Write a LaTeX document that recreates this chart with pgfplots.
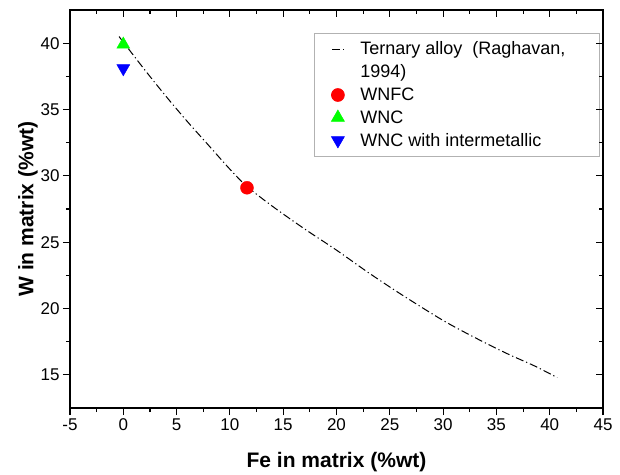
\documentclass[border=0pt]{standalone}
\usepackage{pgfplots}
\pgfplotsset{compat=1.18}
\usepackage{fontspec}
\setmainfont{Liberation Sans}
\definecolor{pureRed}{RGB}{255,0,0}
\definecolor{pureGreen}{RGB}{0,255,0}
\definecolor{pureBlue}{RGB}{0,0,255}
\begin{document}
\begin{tikzpicture}
\pgfplotsset{
  common/.style={
    scale only axis, width=533pt, height=398pt,
    xmin=-5, xmax=45, ymin=12.5, ymax=42.5,
    xtick={-5,0,...,45}, ytick={15,20,...,40},
    minor x tick num=1, minor y tick num=1,
    major tick length=7pt, minor tick length=4pt,
    axis line style={line width=1.1pt},
    every tick/.style={black, line width=1.1pt},
    /pgf/number format/assume math mode=true,
  }
}
\begin{axis}[common,
  tick pos=left, tick align=outside,
  tick label style={font=\fontsize{17}{20}\selectfont},
  xlabel={Fe in matrix (\%wt)}, ylabel={W in matrix (\%wt)},
  label style={font=\fontsize{21}{25}\selectfont\bfseries},
  xlabel style={at={(axis description cs:0.5,-0.135)}, anchor=center},
  ylabel style={at={(axis description cs:-0.079,0.5)}, anchor=center},
  legend style={at={(0.994,0.942)}, anchor=north east, draw=gray!60, line width=0.6pt,
    font=\fontsize{18}{21}\selectfont, row sep=4.5pt, column sep=14pt,
    inner xsep=15pt, inner ysep=6.5pt},
  legend cell align=left,
  legend image code/.code={\draw[#1] plot coordinates {(0.3cm,0)};},
]
\addplot[black, line width=1pt, dash pattern=on 8pt off 3pt on 1.2pt off 3pt, smooth,
  legend image code/.code={\draw[black, line width=0.8pt] (0.1cm,0) -- (0.5cm,0);}]
  coordinates {
  (-0.4,40.5) (2,38.0) (4,36.0) (6,34.1) (8,32.3) (10,30.5) (11.6,29.2)
  (14,27.7) (17,26.0) (20,24.4) (23,22.7) (26,21.1) (30,19.1) (33,17.8)
  (36,16.6) (38.5,15.7) (40.7,14.8)
  };
\addlegendentry{Ternary alloy \ (Raghavan,\hspace*{17pt}}
\addlegendimage{empty legend}
\addlegendentry{1994)}
\addplot[only marks, mark=*, mark size=6.5pt, draw=pureRed, fill=pureRed] coordinates {(11.6,29.1)};
\addlegendentry{WNFC}
\addplot[only marks, mark=triangle*, mark size=7.5pt, draw=pureGreen, fill=pureGreen] coordinates {(0,39.9)};
\addlegendentry{WNC}
\addplot[only marks, mark=triangle*, mark size=7.5pt, mark options={rotate=180}, draw=pureBlue, fill=pureBlue] coordinates {(0,38.1)};
\addlegendentry{WNC with intermetallic}
\end{axis}
\begin{axis}[common,
  tick pos=right, tick align=inside,
  xticklabels={}, yticklabels={},
]
\end{axis}
\pgfresetboundingbox
\path[use as bounding box] (-70pt,-66pt) rectangle (550pt,408pt);
\end{tikzpicture}
\end{document}
